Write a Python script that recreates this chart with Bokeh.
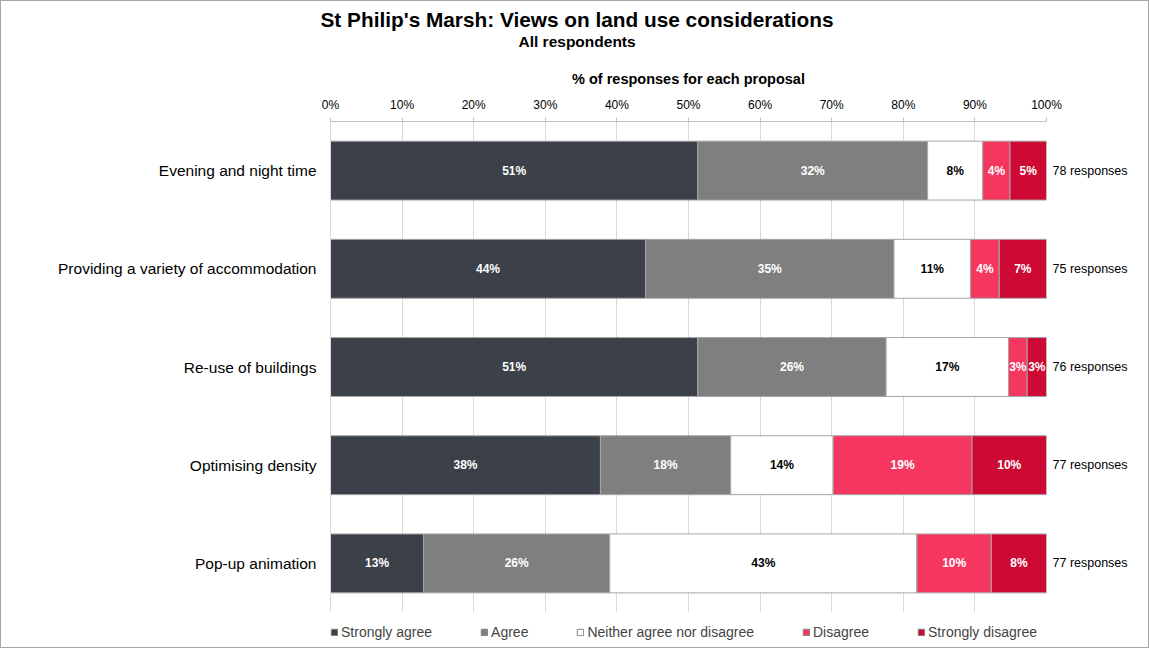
from bokeh.plotting import figure
from bokeh.models import (ColumnDataSource, FactorRange, Range1d, CategoricalAxis,
                          Title, Legend, LegendItem, CustomJSTickFormatter)
from bokeh.layouts import column
from bokeh.core.properties import value
from bokeh.embed import file_html
from bokeh.resources import INLINE

# ---------------- data ----------------
proposals = ["Evening and night time", "Providing a variety of accommodation",
             "Re-use of buildings", "Optimising density", "Pop-up animation"]
responses = [78, 75, 76, 77, 77]
strongly_agree = [51.3, 44.0, 51.3, 37.7, 13.0]
agree = [32.1, 34.7, 26.3, 18.2, 26.0]
neither = [7.7, 10.7, 17.1, 14.3, 42.9]
disagree = [3.8, 4.0, 2.6, 19.4, 10.4]
strongly_disagree = [5.1, 6.6, 2.7, 10.4, 7.7]
series_names = ["Strongly agree", "Agree", "Neither agree nor disagree",
                "Disagree", "Strongly disagree"]
x_ticks = [0, 10, 20, 30, 40, 50, 60, 70, 80, 90, 100]

series_values = [strongly_agree, agree, neither, disagree, strongly_disagree]
colors = ["#3c4048", "#7f7f7f", "#ffffff", "#f5375f", "#cc0a33"]
label_colors = ["#ffffff", "#ffffff", "#000000", "#ffffff", "#ffffff"]
FONT = "Liberation Sans"
GRID = "#d9d9d9"

keys = ["s%d" % i for i in range(len(series_names))]
data = {"proposal": proposals}
for k, vals in zip(keys, series_values):
    data[k] = vals
source = ColumnDataSource(data)

# label positions computed from the data (segment centres)
lx, ly, lt, lc = [], [], [], []
for j, prop in enumerate(proposals):
    cum = 0.0
    for i, vals in enumerate(series_values):
        v = vals[j]
        lx.append(cum + v / 2.0)
        ly.append(prop)
        lt.append("%d%%" % round(v))
        lc.append(label_colors[i])
        cum += v
label_source = ColumnDataSource(dict(x=lx, y=ly, t=lt, c=lc))

p = figure(width=1147, height=611, output_backend="svg", toolbar_location=None,
           y_range=FactorRange(factors=list(reversed(proposals)), range_padding=0),
           x_range=Range1d(0, 100), x_axis_location="above",
           min_border_left=329, min_border_right=102, min_border_top=120,
           min_border_bottom=0, title=None)
p.outline_line_color = None
p.background_fill_color = "white"
p.border_fill_color = "white"

renderers = p.hbar_stack(keys, y="proposal", height=0.6, color=colors,
                         line_color="#a6a6a6", line_width=1, source=source)

p.text(x="x", y="y", text="t", source=label_source, text_color="c",
       text_align="center", text_baseline="middle", text_font=value(FONT),
       text_font_style="bold", text_font_size="12px")

# grid
p.xgrid.ticker = x_ticks
p.xgrid.grid_line_color = GRID
p.ygrid.grid_line_color = None

# top x axis
xa = p.xaxis[0]
xa.ticker = x_ticks
xa.major_label_overrides = {t: "%d%%" % t for t in x_ticks}
xa.axis_label = "% of responses for each proposal"
xa.axis_label_text_font = FONT
xa.axis_label_text_font_style = "bold"
xa.axis_label_text_font_size = "14.5px"
xa.axis_label_text_color = "#000000"
xa.axis_label_standoff = 8
xa.major_label_text_font = FONT
xa.major_label_text_font_size = "12px"
xa.major_label_text_color = "#000000"
xa.major_label_standoff = 6
xa.axis_line_color = "#bfbfbf"
xa.major_tick_line_color = "#bfbfbf"
xa.major_tick_out = 4
xa.major_tick_in = 0
xa.minor_tick_line_color = None

# left category axis
ya = p.yaxis[0]
ya.major_label_text_font = FONT
ya.major_label_text_font_size = "15.5px"
ya.major_label_text_color = "#000000"
ya.major_tick_line_color = None
ya.major_tick_out = 0
ya.axis_line_color = GRID
ya.major_label_standoff = 14

# right axis: response counts
ra = CategoricalAxis()
ra.formatter = CustomJSTickFormatter(
    args=dict(cats=proposals, counts=responses),
    code="const i = cats.indexOf(tick); return i >= 0 ? counts[i] + ' responses' : tick;")
ra.major_label_text_font = FONT
ra.major_label_text_font_size = "12.5px"
ra.major_label_text_color = "#000000"
ra.major_tick_line_color = None
ra.major_tick_out = 0
ra.axis_line_color = None
ra.major_label_standoff = 6
p.add_layout(ra, "right")

# titles
p.add_layout(Title(text="All respondents", text_font=FONT, text_font_style="bold",
                   text_color="#000000", text_font_size="15.5px", align="left",
                   offset=188, standoff=35), "above")
p.add_layout(Title(text="St Philip's Marsh: Views on land use considerations", text_font=FONT,
                   text_color="#000000", text_font_style="bold", text_font_size="20.8px",
                   align="left", offset=-10, standoff=-34), "above")

# legend strip (its frame is aligned with the main plot's frame by the column layout)
lg = figure(width=1147, height=35, output_backend="svg", toolbar_location=None,
            x_range=Range1d(0, 1), y_range=Range1d(0, 1),
            x_axis_location=None, y_axis_location=None,
            min_border_left=329, min_border_right=102, min_border_top=0, min_border_bottom=0,
            title=None)
lg.outline_line_color = None
lg.grid.visible = False
lg.background_fill_color = "white"
lg.border_fill_color = "white"
# off-screen proxies: they only supply the legend swatches
proxies = [lg.hbar(y=[-5], left=[0], right=[1], height=0.5, fill_color=c, line_color="#7f7f7f")
           for c in colors]
legend = Legend(items=[LegendItem(label=n, renderers=[r]) for n, r in zip(series_names, proxies)],
                orientation="horizontal", location=(0, 7), spacing=48,
                label_text_font=FONT, label_text_font_size="14px",
                glyph_width=8, glyph_height=8, label_standoff=3,
                border_line_color=None, background_fill_alpha=0,
                padding=0, margin=0)
lg.add_layout(legend, "center")

layout = column(p, lg, spacing=0, styles={"border": "1px solid #a6a6a6"})

open("out.html", "w").write(file_html(layout, INLINE))
